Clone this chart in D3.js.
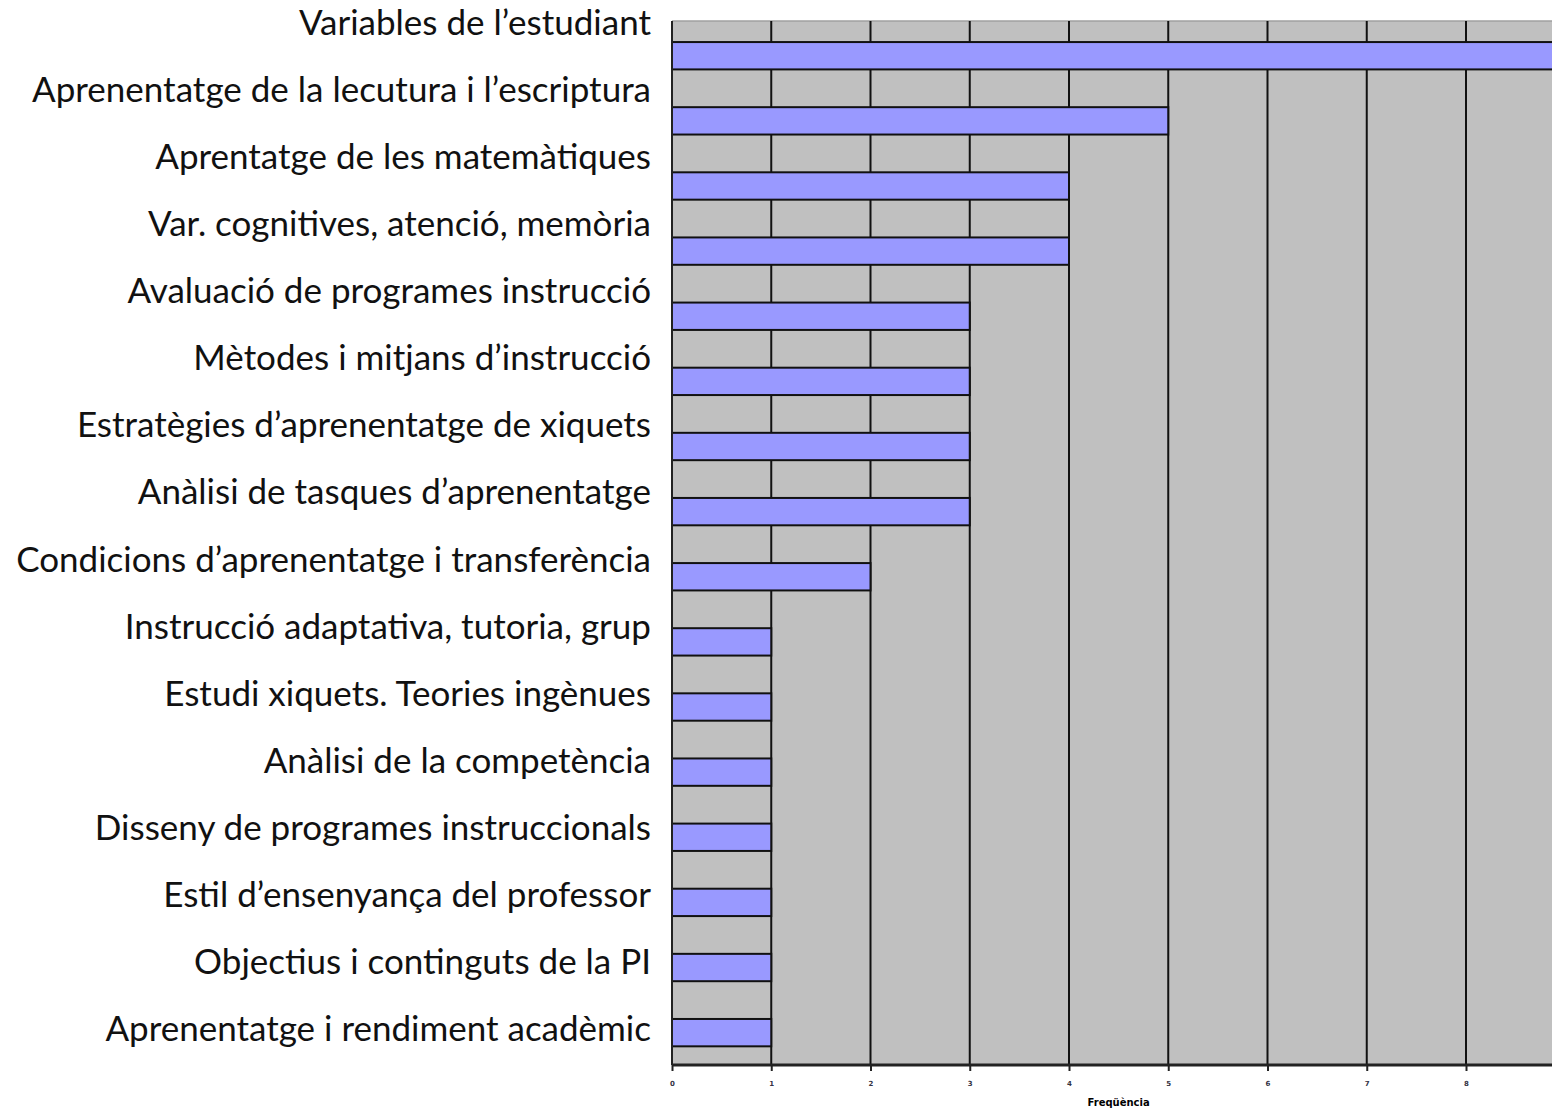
<!DOCTYPE html>
<html>
<head>
<meta charset="utf-8">
<script src="https://cdn.jsdelivr.net/npm/d3@7"></script>
<style>
  body { margin: 0; background: #fff; }
  svg { display: block; }
</style>
</head>
<body>
<svg id="chart" width="1552" height="1108"></svg>
<script>
// categories, top to bottom
var categories = [
  "Variables de l\u2019estudiant",
  "Aprenentatge de la lecutura i l\u2019escriptura",
  "Aprentatge de les matem\u00e0tiques",
  "Var. cognitives, atenci\u00f3, mem\u00f2ria",
  "Avaluaci\u00f3 de programes instrucci\u00f3",
  "M\u00e8todes i mitjans d\u2019instrucci\u00f3",
  "Estrat\u00e8gies d\u2019aprenentatge de xiquets",
  "An\u00e0lisi de tasques d\u2019aprenentatge",
  "Condicions d\u2019aprenentatge i transfer\u00e8ncia",
  "Instrucci\u00f3 adaptativa, tutoria, grup",
  "Estudi xiquets. Teories ing\u00e8nues",
  "An\u00e0lisi de la compet\u00e8ncia",
  "Disseny de programes instruccionals",
  "Estil d\u2019ensenyan\u00e7a del professor",
  "Objectius i continguts de la PI",
  "Aprenentatge i rendiment acad\u00e8mic"
]
var values = [9, 5, 4, 4, 3, 3, 3, 3, 2, 1, 1, 1, 1, 1, 1, 1]
var tickValues = [0, 1, 2, 3, 4, 5, 6, 7, 8]
var axisTitle = "Freq\u00fc\u00e8ncia"

var data = categories.map(function (c, i) { return { cat: c, n: values[i] } })

var svg = d3.select("#chart")

var plotLeft = 672, plotTop = 21, plotBottom = 1065

var x = d3.scaleLinear()
  .domain([0, 9])
  .range([plotLeft, plotLeft + 9 * 99.25])

var y = d3.scaleBand()
  .domain(categories)
  .range([plotTop, plotBottom])
  .paddingInner(0.58)
  .paddingOuter(0.305)
  .align(0.53)

// labels were placed on their own grid in the original
var yLabel = d3.scalePoint()
  .domain(categories)
  .range([35, 1041])

// plot background
svg.append("rect")
  .attr("x", x(0))
  .attr("y", plotTop)
  .attr("width", x(9) - x(0))
  .attr("height", plotBottom - plotTop)
  .attr("fill", "#c0c0c0")

svg.append("line")
  .attr("x1", x(0)).attr("x2", x(9))
  .attr("y1", plotTop).attr("y2", plotTop)
  .attr("stroke", "#a0a0a0")
  .attr("stroke-width", 1.5)

// vertical grid
svg.append("g")
  .selectAll("line")
  .data(d3.range(1, 10))
  .enter()
  .append("line")
    .attr("x1", function (d) { return x(d) })
    .attr("x2", function (d) { return x(d) })
    .attr("y1", plotTop)
    .attr("y2", plotBottom)
    .attr("stroke", "#111")
    .attr("stroke-width", 2)

// bars
svg.append("g")
  .selectAll("rect")
  .data(data)
  .enter()
  .append("rect")
    .attr("x", x(0))
    .attr("y", function (d) { return y(d.cat) })
    .attr("width", function (d) { return x(d.n) - x(0) })
    .attr("height", y.bandwidth())
    .attr("fill", "#9999ff")
    .attr("stroke", "#111")
    .attr("stroke-width", 2)

// left edge
svg.append("line")
  .attr("x1", x(0)).attr("x2", x(0))
  .attr("y1", plotTop).attr("y2", plotBottom)
  .attr("stroke", "#222")
  .attr("stroke-width", 2)

// bottom axis
var xAxis = d3.axisBottom(x)
  .tickValues(tickValues)
  .tickSize(6)
  .tickPadding(10)
  .tickFormat(d3.format("d"))

var gx = svg.append("g")
  .attr("transform", "translate(0," + plotBottom + ")")
  .call(xAxis)
gx.select(".domain")
  .attr("stroke", "#222")
  .attr("stroke-width", 3)
  .attr("d", "M" + x(0) + ",0H" + x(9))
gx.selectAll(".tick line").attr("stroke", "#222").attr("stroke-width", 2)
gx.selectAll(".tick text")
  .style("font-family", "DejaVu Sans")
  .style("font-size", "7px")
  .style("font-weight", "bold")
  .attr("fill", "#334")

svg.append("text")
  .attr("x", (x(0) + x(9)) / 2)
  .attr("y", 1106)
  .attr("text-anchor", "middle")
  .style("font-family", "DejaVu Sans")
  .style("font-size", "10px")
  .style("font-weight", "bold")
  .text(axisTitle)

// category labels
svg.append("g")
  .selectAll("text")
  .data(categories)
  .enter()
  .append("text")
    .attr("x", 651)
    .attr("y", function (d) { return yLabel(d) })
    .attr("text-anchor", "end")
    .style("font-family", "Lato")
    .style("font-size", "35px")
    .attr("fill", "#111")
    .text(function (d) { return d })
</script>
</body>
</html>
